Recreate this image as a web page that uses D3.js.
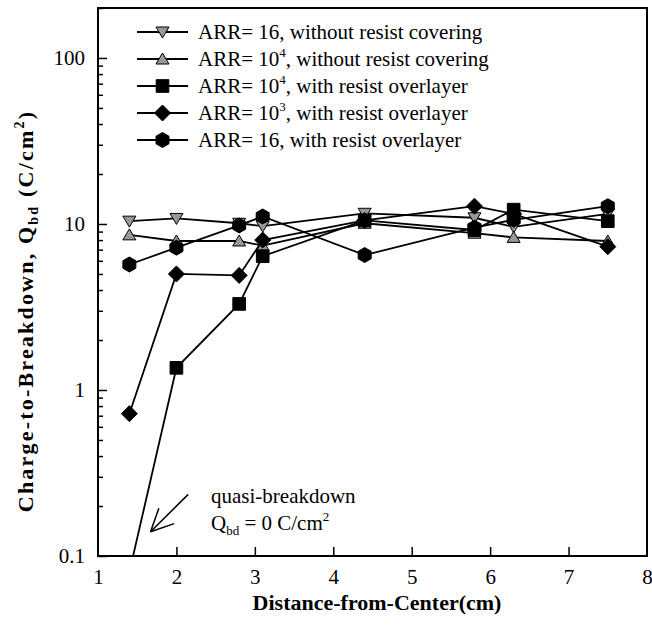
<!DOCTYPE html>
<html>
<head>
<meta charset="utf-8">
<script src="https://cdn.jsdelivr.net/npm/d3@7"></script>
<style>
  body { margin: 0; background: #fff; }
  svg { font-family: "Liberation Serif", "Times New Roman", serif; }
</style>
</head>
<body>
<div id="chart"></div>
<script>
var width = 652, height = 629;
var margin = { top: 8, right: 5, bottom: 73, left: 98 };

// data
var distance = [1.4, 2.0, 2.8, 3.1, 4.4, 5.8, 6.3, 7.5];
var arr16NoResist = [10.4, 10.8, 10.1, 9.7, 11.6, 10.9, 9.6, 11.5];
var arr1e4NoResist = [8.6, 7.9, 7.9, 7.4, 10.1, 8.8, 8.3, 7.9];
var arr1e4Resist = [0.08, 1.36, 3.3, 6.4, 10.5, 9.2, 12.2, 10.4];
var arr1e3Resist = [0.72, 5.0, 4.9, 8.0, 10.5, 12.8, 11.5, 7.3];
var arr16Resist = [5.7, 7.2, 9.8, 11.1, 6.5, 9.5, 10.6, 12.8];

var xTicks = [1, 2, 3, 4, 5, 6, 7, 8];
var yTicks = [0.1, 1, 10, 100];

var series = [
  { name: "16", tail: ", without resist covering", sup: null, symbol: "down", values: arr16NoResist },
  { name: "10", tail: ", without resist covering", sup: "4", symbol: "up", values: arr1e4NoResist },
  { name: "10", tail: ", with resist overlayer", sup: "4", symbol: "square", values: arr1e4Resist },
  { name: "10", tail: ", with resist overlayer", sup: "3", symbol: "diamond", values: arr1e3Resist },
  { name: "16", tail: ", with resist overlayer", sup: null, symbol: "hexagon", values: arr16Resist }
];

var svg = d3.select("#chart").append("svg").attr("width", width).attr("height", height);

var defs = svg.append("defs");
var pat = defs.append("pattern").attr("id", "hatch").attr("patternUnits", "userSpaceOnUse")
  .attr("width", 3).attr("height", 3);
pat.append("rect").attr("width", 3).attr("height", 3).attr("fill", "#d8d8d8");
pat.append("rect").attr("width", 1.5).attr("height", 1.5).attr("fill", "#555");
pat.append("rect").attr("x", 1.5).attr("y", 1.5).attr("width", 1.5).attr("height", 1.5).attr("fill", "#555");

var x = d3.scaleLinear().domain([1, 8]).range([margin.left, width - margin.right]);
var y = d3.scaleLog().domain([0.1, 200]).range([height - margin.bottom, margin.top]);

defs.append("clipPath").attr("id", "clip").append("rect")
  .attr("x", x(1)).attr("y", y(200)).attr("width", x(8) - x(1)).attr("height", y(0.1) - y(200));

// x axis
var xAxis = svg.append("g")
  .attr("transform", "translate(0," + y(0.1) + ")")
  .call(d3.axisBottom(x).tickValues(xTicks).tickSize(-9).tickPadding(13).tickFormat(d3.format("d")));
xAxis.select(".domain").remove();
xAxis.selectAll(".tick line").filter(function (d) { return d === 1 || d === 8; }).remove();

// y axis with minor ticks
var minor = [];
[0.1, 1, 10, 100].forEach(function (dec) {
  for (var k = 2; k <= 9; k++) { if (dec * k <= 200) minor.push(dec * k); }
});
svg.append("g")
  .attr("transform", "translate(" + x(1) + ",0)")
  .call(d3.axisLeft(y).tickValues(minor).tickSize(-5).tickFormat(""))
  .call(function (g) { g.select(".domain").remove(); });
var yAxis = svg.append("g")
  .attr("transform", "translate(" + x(1) + ",0)")
  .call(d3.axisLeft(y).tickValues(yTicks).tickSize(-9).tickPadding(13).tickFormat(function (d) { return d; }));
yAxis.select(".domain").remove();

svg.selectAll(".tick text").attr("font-size", 21).attr("fill", "#000")
  .attr("font-family", "Liberation Serif, serif");
svg.selectAll(".tick line").attr("stroke", "#000").attr("stroke-width", 1.5);

// frame
svg.append("rect")
  .attr("x", x(1)).attr("y", y(200))
  .attr("width", x(8) - x(1)).attr("height", y(0.1) - y(200))
  .attr("fill", "none").attr("stroke", "#000").attr("stroke-width", 2);

// symbols
function symbolPath(type) {
  if (type === "square") return d3.symbol(d3.symbolSquare, 160)();
  if (type === "diamond") return "M0,-8L8,0L0,8L-8,0Z";
  if (type === "up") return "M0,-6L6.5,5L-6.5,5Z";
  if (type === "down") return "M0,6L6.5,-5L-6.5,-5Z";
  var pts = d3.range(6).map(function (i) {
    var a = Math.PI / 6 + i * Math.PI / 3;
    return [7.5 * Math.cos(a), 7.5 * Math.sin(a)];
  });
  return "M" + pts.map(function (p) { return p.join(","); }).join("L") + "Z";
}
function symbolFill(type) { return (type === "up" || type === "down") ? "url(#hatch)" : "#000"; }

var line = d3.line()
  .x(function (d) { return x(d[0]); })
  .y(function (d) { return y(d[1]); });

var plot = svg.append("g").attr("clip-path", "url(#clip)");
series.forEach(function (s) {
  var pts = distance.map(function (d, i) { return [d, s.values[i]]; });
  plot.append("path").attr("d", line(pts))
    .attr("fill", "none").attr("stroke", "#000").attr("stroke-width", 1.8);
  plot.selectAll(null).data(pts).enter().append("path")
    .attr("d", symbolPath(s.symbol))
    .attr("transform", function (d) { return "translate(" + x(d[0]) + "," + y(d[1]) + ")"; })
    .attr("fill", symbolFill(s.symbol))
    .attr("stroke", "#000").attr("stroke-width", 1);
});

// legend
var legend = svg.append("g").attr("transform", "translate(137,32)");
series.forEach(function (s, i) {
  var g = legend.append("g").attr("transform", "translate(0," + i * 27 + ")");
  g.append("line").attr("x1", 0).attr("x2", 51).attr("stroke", "#000").attr("stroke-width", 1.8);
  g.append("path").attr("d", symbolPath(s.symbol)).attr("transform", "translate(25.5,0)")
    .attr("fill", symbolFill(s.symbol)).attr("stroke", "#000").attr("stroke-width", 1);
  var t = g.append("text").attr("x", 61).attr("y", 7).attr("font-size", 21);
  t.append("tspan").text("ARR= " + s.name);
  if (s.sup) t.append("tspan").attr("dy", -9).attr("font-size", 13).text(s.sup);
  t.append("tspan").attr("dy", s.sup ? 9 : 0).text(s.tail);
});

// annotation
var arrowFrom = [2.15, 0.235], arrowTo = [1.67, 0.14];
var ax0 = x(arrowFrom[0]), ay0 = y(arrowFrom[1]), ax1 = x(arrowTo[0]), ay1 = y(arrowTo[1]);
var ang = Math.atan2(ay0 - ay1, ax0 - ax1);
svg.append("line").attr("x1", ax0).attr("y1", ay0).attr("x2", ax1).attr("y2", ay1)
  .attr("stroke", "#000").attr("stroke-width", 1.5);
[-0.45, 0.45].forEach(function (da) {
  svg.append("line").attr("x1", ax1).attr("y1", ay1)
    .attr("x2", ax1 + 25 * Math.cos(ang + da)).attr("y2", ay1 + 25 * Math.sin(ang + da))
    .attr("stroke", "#000").attr("stroke-width", 1.5);
});
svg.append("text").attr("x", 211).attr("y", 503).attr("font-size", 21).text("quasi-breakdown");
var q = svg.append("text").attr("x", 211).attr("y", 530).attr("font-size", 21);
q.append("tspan").text("Q");
q.append("tspan").attr("dy", 5).attr("font-size", 13).text("bd");
q.append("tspan").attr("dy", -5).text(" = 0 C/cm");
q.append("tspan").attr("dy", -9).attr("font-size", 13).text("2");

// axis titles
svg.append("text").attr("x", 377).attr("y", 610)
  .attr("text-anchor", "middle").attr("font-size", 22).attr("font-weight", "bold")
  .text("Distance-from-Center(cm)");
var yt = svg.append("text")
  .attr("transform", "translate(33,311) rotate(-90)")
  .attr("text-anchor", "middle").attr("font-size", 22).attr("font-weight", "bold")
  .attr("letter-spacing", 2.2);
yt.append("tspan").text("Charge-to-Breakdown, Q");
yt.append("tspan").attr("dy", 5).attr("font-size", 14).text("bd");
yt.append("tspan").attr("dy", -5).text(" (C/cm");
yt.append("tspan").attr("dy", -9).attr("font-size", 14).text("2");
yt.append("tspan").attr("dy", 9).text(")");
</script>
</body>
</html>
